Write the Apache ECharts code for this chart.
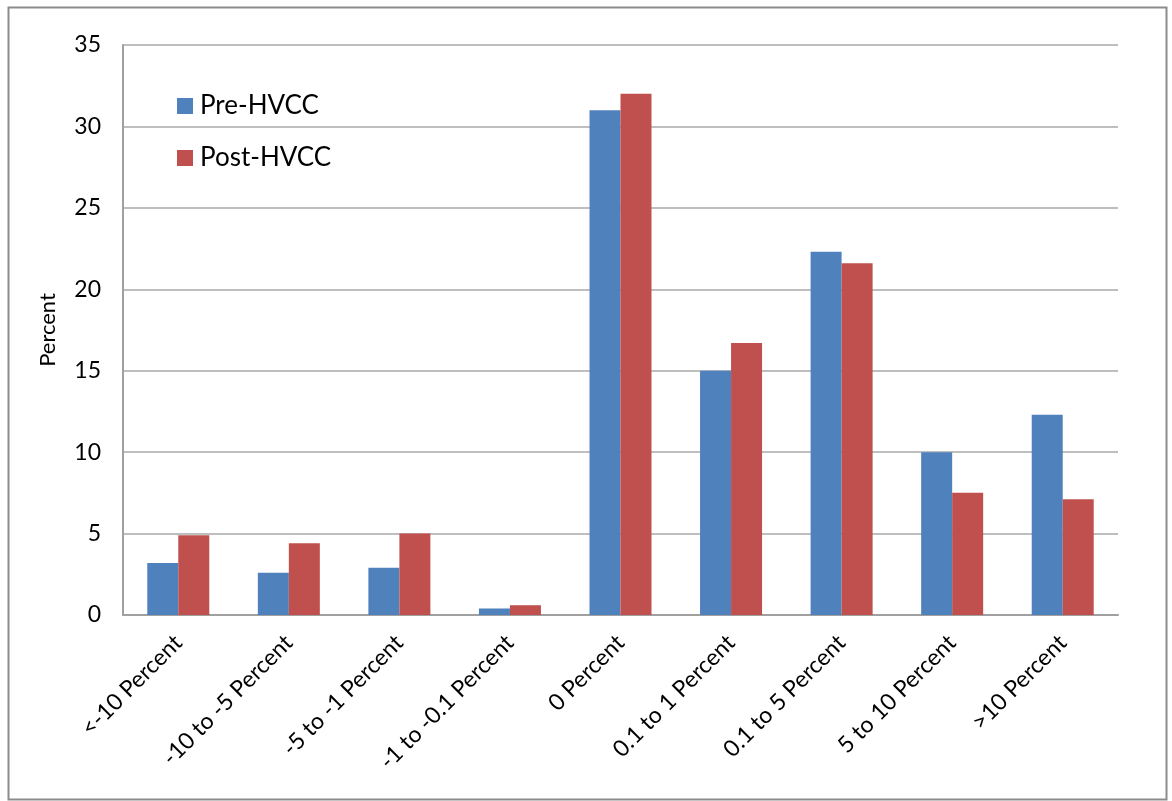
<!DOCTYPE html>
<html>
<head>
<meta charset="utf-8">
<script src="https://cdn.jsdelivr.net/npm/echarts@6/dist/echarts.min.js"></script>
<style>html,body{margin:0;padding:0;background:#fff;}#c{width:1172px;height:801px;}</style>
</head>
<body>
<div id="c"></div>
<script>
const categories = ['<-10 Percent', '-10 to -5 Percent', '-5 to -1 Percent', '-1 to -0.1 Percent', '0 Percent', '0.1 to 1 Percent', '0.1 to 5 Percent', '5 to 10 Percent', '>10 Percent'];
const preHVCC = [3.2, 2.6, 2.9, 0.4, 31.0, 15.0, 22.3, 10.0, 12.3];
const postHVCC = [4.9, 4.4, 5.0, 0.6, 32.0, 16.7, 21.6, 7.5, 7.1];
const seriesNames = ['Pre-HVCC', 'Post-HVCC'];
const yTicks = {min: 0, max: 35, interval: 5};

const font = 'Lato, Liberation Sans, Arial, sans-serif';
const chart = echarts.init(document.getElementById('c'));
chart.setOption({
  animation: false,
  backgroundColor: '#fff',
  graphic: [{
    type: 'rect', left: 6, top: 5,
    shape: {width: 1158, height: 792},
    style: {fill: 'none', stroke: '#8c8c8c', lineWidth: 2}
  }],
  grid: {left: 123, right: 54, top: 45, bottom: 186, containLabel: false},
  legend: {
    orient: 'vertical', left: 172, top: 88, itemGap: 26,
    itemWidth: 16, itemHeight: 16, icon: 'rect',
    textStyle: {fontSize: 26, fontFamily: font, color: '#000', padding: [0, 0, 0, 2]},
    data: seriesNames
  },
  xAxis: {
    type: 'category', data: categories,
    axisLine: {lineStyle: {color: '#a0a0a0', width: 2}},
    axisTick: {show: false},
    axisLabel: {rotate: 45, fontSize: 23, fontFamily: font, color: '#000', margin: 24, interval: 0}
  },
  yAxis: {
    type: 'value', min: yTicks.min, max: yTicks.max, interval: yTicks.interval,
    name: 'Percent', nameLocation: 'middle', nameGap: 64, nameRotate: 90,
    nameTextStyle: {fontSize: 22, fontFamily: font, color: '#000'},
    axisLine: {show: true, lineStyle: {color: '#a0a0a0', width: 2}},
    axisTick: {show: false},
    splitLine: {lineStyle: {color: '#a8a8a8', width: 1.5}},
    axisLabel: {fontSize: 23, fontFamily: font, color: '#000', margin: 22}
  },
  series: [
    {name: seriesNames[0], type: 'bar', data: preHVCC, barWidth: 31, barGap: '0%',
     itemStyle: {color: '#4F81BD'}},
    {name: seriesNames[1], type: 'bar', data: postHVCC, barWidth: 31, barGap: '0%',
     itemStyle: {color: '#C0504D'}}
  ]
});
</script>
</body>
</html>
